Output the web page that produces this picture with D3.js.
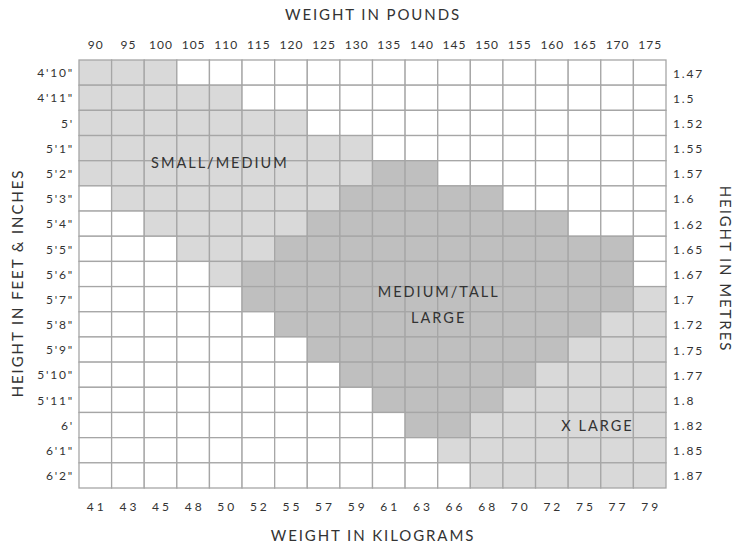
<!DOCTYPE html>
<html><head><meta charset="utf-8">
<script src="https://cdn.jsdelivr.net/npm/d3@7"></script>
<style>body{margin:0;background:#fff}svg{display:block}text{font-family:Lato,"Open Sans",sans-serif;fill:#333}</style>
</head><body><svg id="c" width="737" height="548"></svg>
<script>
const pounds = [90,95,100,105,110,115,120,125,130,135,140,145,150,155,160,165,170,175];
const kilograms = [41,43,45,48,50,52,55,57,59,61,63,66,68,70,72,75,77,79];
const feetInches = ["4'10\"","4'11\"","5'","5'1\"","5'2\"","5'3\"","5'4\"","5'5\"","5'6\"","5'7\"","5'8\"","5'9\"","5'10\"","5'11\"","6'","6'1\"","6'2\""];
const metres = ["1.47","1.5","1.52","1.55","1.57","1.6","1.62","1.65","1.67","1.7","1.72","1.75","1.77","1.8","1.82","1.85","1.87"];
// size ranges per height row: [firstCol, lastCol] (inclusive) by pound index; null = none
const smallMedium = [[0,2],[0,4],[0,6],[0,8],[0,8],[1,7],[2,6],[3,5],[4,4],null,null,null,null,null,null,null,null];
const mediumTall  = [null,null,null,null,[9,10],[8,12],[7,14],[6,16],[5,16],[5,16],[6,15],[7,14],[8,13],[9,12],[10,11],null,null];
const xLarge      = [null,null,null,null,null,null,null,null,null,[17,17],[16,17],[15,17],[14,17],[13,17],[12,17],[11,17],[12,17]];
// label anchor in grid units (column, row baseline)
const sizeLabels = [
  {text:"SMALL/MEDIUM", col:4.32, row:4.30},
  {text:"MEDIUM/TALL", col:11.03, row:9.40},
  {text:"LARGE", col:11.03, row:10.43},
  {text:"X LARGE", col:15.9, row:14.73}
];

const svg = d3.select("#c");
const L=79, R=666, T=60, B=488;
const x = d3.scaleBand().domain(d3.range(pounds.length)).range([L,R]);
const y = d3.scaleBand().domain(d3.range(feetInches.length)).range([T,B]);
const xc = d3.scaleLinear().domain([0,pounds.length]).range([L,R]);
const yc = d3.scaleLinear().domain([0,feetInches.length]).range([T,B]);

const cells=[];
feetInches.forEach((h,r)=>{
  pounds.forEach((p,c)=>{
    let fill="#ffffff";
    const inR=(a)=>a[r] && c>=a[r][0] && c<=a[r][1];
    if(inR(smallMedium)) fill="#d9d9d9";
    else if(inR(mediumTall)) fill="#bfbfbf";
    else if(inR(xLarge)) fill="#d9d9d9";
    cells.push({r,c,fill});
  });
});
svg.append("g").selectAll("rect").data(cells).join("rect")
  .attr("x",d=>x(d.c)).attr("y",d=>y(d.r))
  .attr("width",x.bandwidth()).attr("height",y.bandwidth())
  .attr("fill",d=>d.fill).attr("stroke","#a6a6a6").attr("stroke-width",1.3);

svg.append("g").selectAll("text").data(pounds).join("text")
  .attr("x",(d,i)=>x(i)+x.bandwidth()/2+0.5).attr("y",49.3)
  .attr("text-anchor","middle").attr("font-size",12).style("letter-spacing","1px").text(d=>d);
svg.append("g").selectAll("text").data(kilograms).join("text")
  .attr("x",(d,i)=>x(i)+x.bandwidth()/2+1.5).attr("y",510.5)
  .attr("text-anchor","middle").attr("font-size",12).style("letter-spacing","3px").text(d=>d);
svg.append("g").selectAll("text").data(feetInches).join("text")
  .attr("x",74).attr("y",(d,i)=>y(i)+y.bandwidth()/2+4.7)
  .attr("text-anchor","end").attr("font-size",12).style("letter-spacing","1.8px").text(d=>d);
svg.append("g").selectAll("text").data(metres).join("text")
  .attr("x",673).attr("y",(d,i)=>y(i)+y.bandwidth()/2+5)
  .attr("text-anchor","start").attr("font-size",12).style("letter-spacing","1.8px").text(d=>d);

const ls="1.9px";
svg.append("text").attr("x",373).attr("y",20).attr("text-anchor","middle")
  .attr("font-size",15).style("letter-spacing",ls).text("WEIGHT IN POUNDS");
svg.append("text").attr("x",373).attr("y",541).attr("text-anchor","middle")
  .attr("font-size",15).style("letter-spacing",ls).text("WEIGHT IN KILOGRAMS");
svg.append("text").attr("transform","translate(23,283) rotate(-90)").attr("text-anchor","middle")
  .attr("font-size",15).style("letter-spacing",ls).text("HEIGHT IN FEET & INCHES");
svg.append("text").attr("transform","translate(720,269) rotate(90)").attr("text-anchor","middle")
  .attr("font-size",15).style("letter-spacing",ls).text("HEIGHT IN METRES");

svg.append("g").selectAll("text").data(sizeLabels).join("text")
  .attr("x",d=>xc(d.col)).attr("y",d=>yc(d.row))
  .attr("text-anchor","middle").attr("font-size",14.5).style("letter-spacing","2px").text(d=>d.text);
</script></body></html>
